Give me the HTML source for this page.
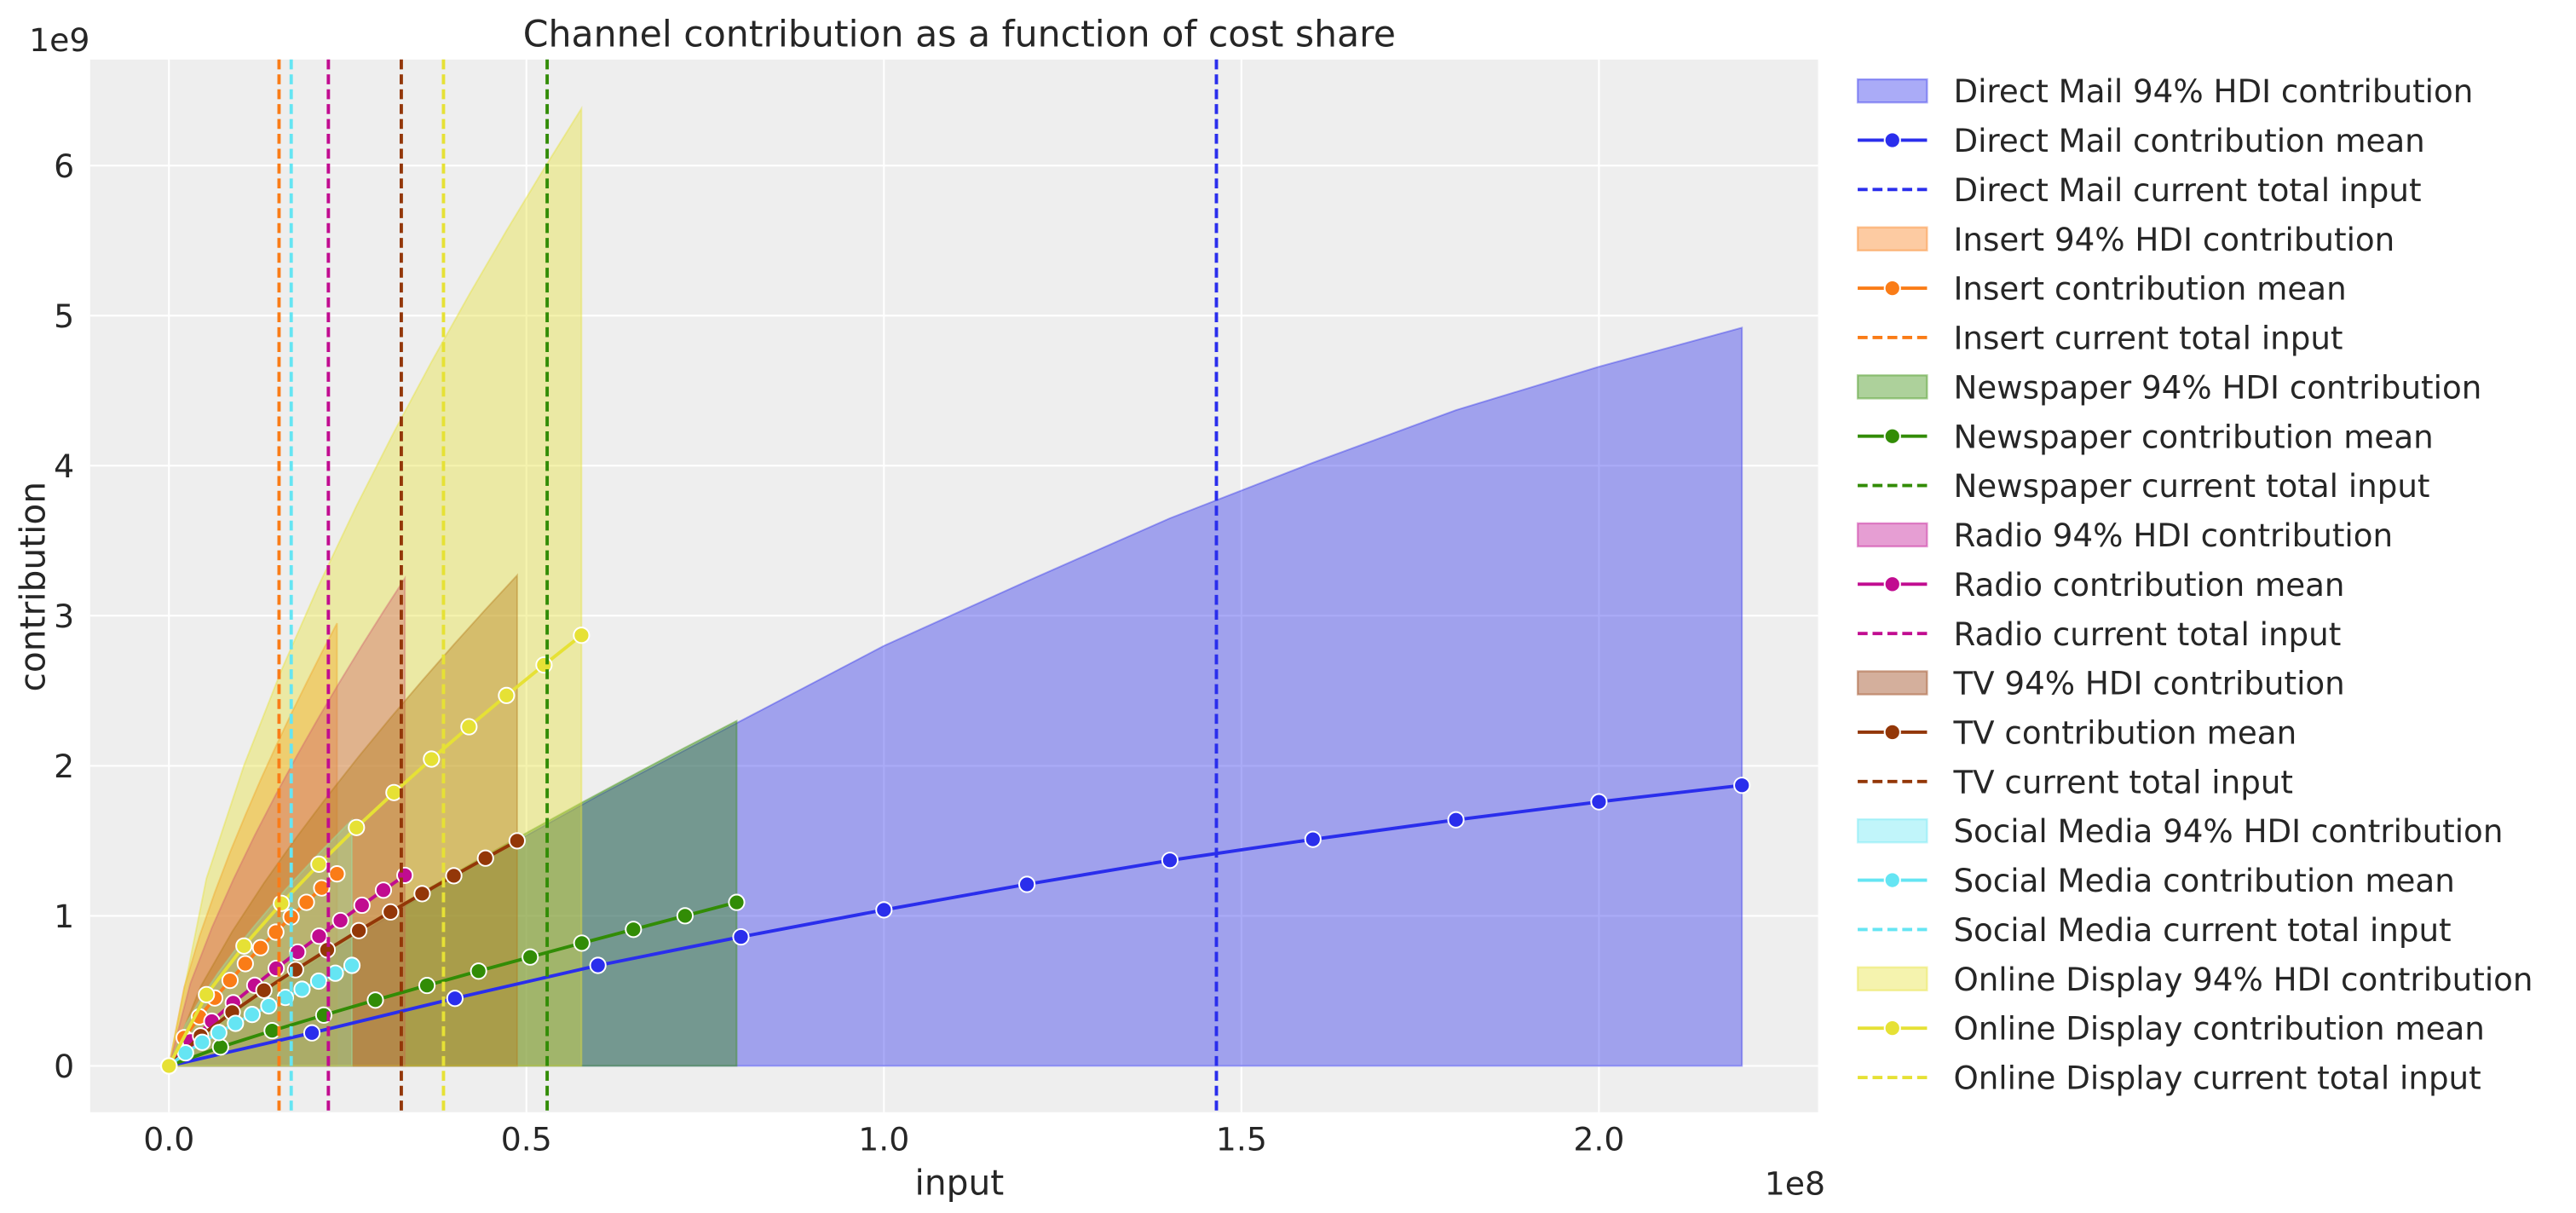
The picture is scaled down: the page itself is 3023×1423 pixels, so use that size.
<!DOCTYPE html>
<html><head><meta charset="utf-8"><style>
html,body{margin:0;padding:0;background:#fff;}
svg{display:block;}
text{font-family:"DejaVu Sans","Liberation Sans",sans-serif;fill:#262626;}
</style></head><body>
<svg id="s" width="3023" height="1423" viewBox="0 0 1560 734" preserveAspectRatio="none" xmlns="http://www.w3.org/2000/svg">
<rect x="54.6" y="36" width="1046.4" height="637" fill="#eeeeee"/>
<g id="grid" stroke="#fff" stroke-width="1.1"></g>
<g id="fills"></g>
<g id="lines"></g>
<g id="vl"></g>
<g id="ticks" font-size="19.5"></g>
<text x="581" y="28" font-size="22" text-anchor="middle">Channel contribution as a function of cost share</text>
<text x="581" y="723" font-size="21" text-anchor="middle">input</text>
<text x="1087" y="723" font-size="19.5" text-anchor="middle">1e8</text>
<text x="36" y="31" font-size="19.5" text-anchor="middle">1e9</text>
<text transform="translate(27,355) rotate(-90)" font-size="21" text-anchor="middle">contribution</text>
<g id="legend" font-size="19.2"></g>
</svg>
<script>
var NS="http://www.w3.org/2000/svg";
function el(p,t,a,txt){var e=document.createElementNS(NS,t);for(var k in a)e.setAttribute(k,a[k]);if(txt!=null)e.textContent=txt;p.appendChild(e);return e;}
function X(v){return 102.3+v*433;}
function Y(v){return 645-v*90.8;}
var grid=document.getElementById('grid'),fills=document.getElementById('fills'),lines=document.getElementById('lines'),vl=document.getElementById('vl'),ticks=document.getElementById('ticks'),leg=document.getElementById('legend');
[0,0.5,1,1.5,2].forEach(function(t){el(grid,'line',{x1:X(t),x2:X(t),y1:36,y2:673});el(ticks,'text',{x:X(t),y:696,'text-anchor':'middle'},t.toFixed(1));});
[0,1,2,3,4,5,6].forEach(function(t){el(grid,'line',{x1:54.6,x2:1101,y1:Y(t),y2:Y(t)});el(ticks,'text',{x:45,y:Y(t)+7,'text-anchor':'end'},String(t));});
var ch=[
 {n:'Direct Mail',c:'#2a2eec',end:2.2,cur:1.465,
  M:[0,.22,.45,.67,.86,1.04,1.21,1.37,1.51,1.64,1.76,1.87],
  U:[0,.68,1.27,1.8,2.3,2.8,3.23,3.65,4.02,4.37,4.66,4.92]},
 {n:'Insert',c:'#fa7c17',end:0.235,mean:1.28,me:0.8,up:2.95,ue:0.72,cur:0.154},
 {n:'Newspaper',c:'#328c06',end:0.794,mean:1.09,me:0.9,up:2.3,ue:0.85,cur:0.529},
 {n:'Radio',c:'#c10c90',end:0.33,mean:1.27,me:0.85,up:3.25,ue:0.74,cur:0.223},
 {n:'TV',c:'#933708',end:0.487,mean:1.5,me:0.84,up:3.27,ue:0.76,cur:0.325},
 {n:'Social Media',c:'#65e5f3',end:0.256,mean:0.67,me:0.85,up:1.64,ue:0.74,cur:0.171},
 {n:'Online Display',c:'#e6e135',end:0.577,mean:2.87,me:0.75,up:6.38,ue:0.68,cur:0.384}
];
ch.forEach(function(c){
  var pts=[],up=[];
  for(var k=0;k<=11;k++){var f=k/11,x=c.end*f;
    var m=c.M?c.M[k]:c.mean*Math.pow(f,c.me), u=c.U?c.U[k]:c.up*Math.pow(f,c.ue);
    pts.push([X(x),Y(m)]);up.push([X(x),Y(u)]);}
  c.pts=pts;
  var d='M'+X(0)+','+Y(0);up.forEach(function(p){d+=' L'+p[0].toFixed(1)+','+p[1].toFixed(1);});d+=' L'+X(c.end)+','+Y(0)+' Z';
  el(fills,'path',{d:d,fill:c.c,'fill-opacity':0.4,stroke:c.c,'stroke-opacity':0.4,'stroke-width':1});
});
ch.forEach(function(c){
  el(lines,'polyline',{points:c.pts.map(function(p){return p[0].toFixed(1)+','+p[1].toFixed(1);}).join(' '),fill:'none',stroke:c.c,'stroke-width':2});
  c.pts.forEach(function(p){el(lines,'circle',{cx:p[0],cy:p[1],r:4.7,fill:c.c,stroke:'#fff','stroke-width':1});});
  el(vl,'line',{x1:X(c.cur),x2:X(c.cur),y1:36,y2:673,stroke:c.c,'stroke-width':2,'stroke-dasharray':'6,3'});
});
var row=0,SP=29.85;
ch.forEach(function(c){
  var y=55+row*SP;
  el(leg,'rect',{x:1125,y:y-7,width:42,height:14,fill:c.c,'fill-opacity':0.4,stroke:c.c,'stroke-opacity':0.4,'stroke-width':1.2});
  el(leg,'text',{x:1183,y:y+7},c.n+' 94% HDI contribution');row++;
  y=55+row*SP;
  el(leg,'line',{x1:1125,x2:1167,y1:y,y2:y,stroke:c.c,'stroke-width':2});
  el(leg,'circle',{cx:1146,cy:y,r:4.7,fill:c.c,stroke:'#fff','stroke-width':1});
  el(leg,'text',{x:1183,y:y+7},c.n+' contribution mean');row++;
  y=55+row*SP;
  el(leg,'line',{x1:1125,x2:1167,y1:y,y2:y,stroke:c.c,'stroke-width':2,'stroke-dasharray':'6,3'});
  el(leg,'text',{x:1183,y:y+7},c.n+' current total input');row++;
});
</script>
</body></html>
